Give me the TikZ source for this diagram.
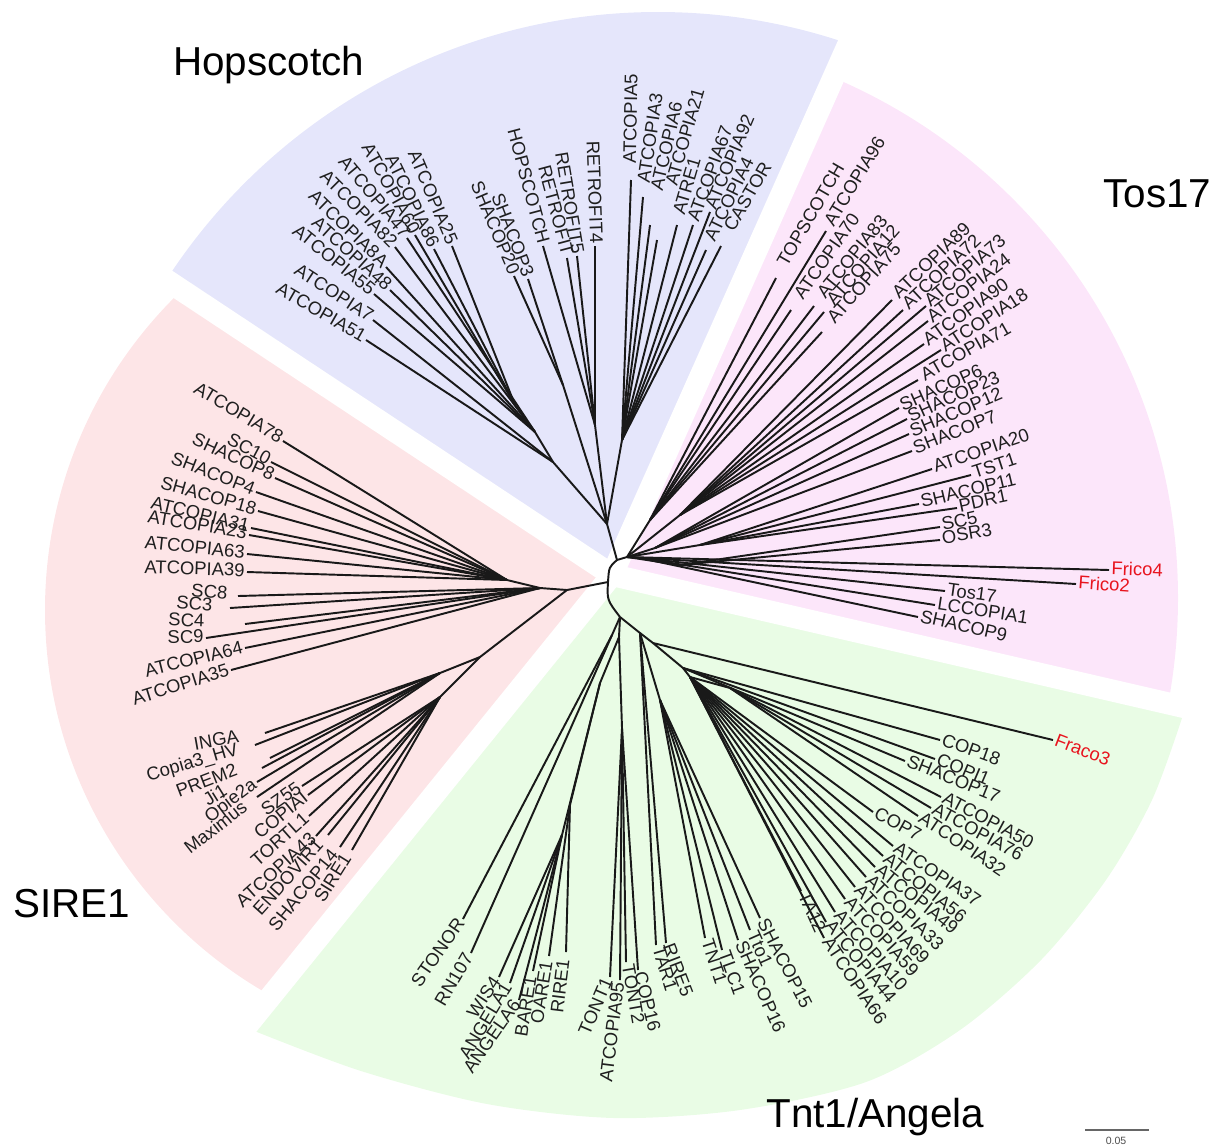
\documentclass[tikz,border=0pt]{standalone}
\usepackage{fontspec}
\setmainfont{Liberation Sans}
\definecolor{hopfill}{RGB}{229,230,251}
\definecolor{tosfill}{RGB}{252,230,250}
\definecolor{tntfill}{RGB}{233,252,229}
\definecolor{sirefill}{RGB}{253,229,231}
\definecolor{novel}{RGB}{232,20,30}
\tikzset{
  branch/.style={line width=1.1pt, black!90},
  leaf/.style={font=\fontsize{10.5}{12}\selectfont, text=black!88, inner ysep=0pt, inner xsep=1.2pt},
  lg/.style={inner xsep=#1},
  clade/.style={font=\fontsize{23}{27}\selectfont, anchor=base west, inner sep=0pt},
  gapline/.style={white, line width=0.44cm}
}
% leaf: [options]{parent}{tip}{outward angle}{label}
\newcommand\leaf[5][]{%
  \pgfmathsetmacro\lcos{cos(#4)}%
  \ifdim\lcos pt<0pt
    \node[leaf, anchor=mid east, rotate=#4-180, #1] (#5) at #3 {#5};
    \draw[branch] (#2) -- (#5.mid east);
  \else
    \node[leaf, anchor=mid west, rotate=#4, #1] (#5) at #3 {#5};
    \draw[branch] (#2) -- (#5.mid west);
  \fi}

\begin{document}
\begin{tikzpicture}[x=0.02cm,y=-0.02cm]
\useasboundingbox (0,0) rectangle (1220,1147);

% clade sectors
\coordinate (ctr) at (612,575);
\begin{scope}
  \clip (ctr) -- +(-66:1000) -- +(-106.25:1300) -- +(-146.5:1000) -- cycle;
  \fill[hopfill] (658,597) circle[radius=585];
\end{scope}
\begin{scope}
  \clip (ctr) -- +(-146.5:1000) -- +(-188.75:1300) -- +(-231:1000) -- cycle;
  \fill[sirefill] (487,610) circle[radius=442];
\end{scope}
\begin{scope}
  \clip (ctr) -- +(13:1000) -- +(-26.5:1300) -- +(-66:1000) -- cycle;
  \fill[tosfill] (613,598) circle[radius=565];
\end{scope}
\fill[tntfill] (ctr) -- (1200,711) -- plot[smooth] coordinates {(1182,718) (1152,800) (1106,880) (1041,960) (960,1030) (866,1082) (740,1110) (614,1118) (487,1104) (361,1071) (252,1030)} -- (240,1040) -- cycle;
\foreach \a in {-66,-146.5,-231,13}
  \draw[gapline] (ctr) -- +(\a:640);

% root
\coordinate (nA) at (617,560);
\coordinate (nR) at (608,582);
\coordinate (nT) at (620,617);
\draw[branch] (nA) .. controls (609,567) .. (nR) .. controls (607,600) .. (nT);

% Hopscotch
\coordinate (hop0) at (607,524);
\coordinate (hL) at (553,462);
\coordinate (hL2) at (535,432);
\coordinate (hL3) at (515,405);
\coordinate (hS) at (563,385);
\coordinate (hR) at (595,425);
\coordinate (hA5) at (622,440);
\draw[branch] (nA) -- (hop0);
\draw[branch] (hop0) -- (hL) -- (hL2) -- (hL3);
\draw[branch] (hop0) -- (hS);
\draw[branch] (hop0) -- (hR);
\draw[branch] (hop0) -- (hA5);
\leaf{hL}{(366,340)}{150}{ATCOPIA51}
\leaf{hL}{(373,320)}{147}{ATCOPIA7}
\leaf{hL2}{(374,294)}{141}{ATCOPIA55}
\leaf{hL2}{(390,290)}{138}{ATCOPIA48}
\leaf{hL2}{(386,267)}{136}{ATCOPIA8A}
\leaf{hL2}{(395,247)}{135}{ATCOPIA82}
\leaf{hL2}{(407,238)}{130}{ATCOPIA47}
\leaf{hL3}{(415,235)}{119}{ATCOPIA60}
\leaf{hL3}{(434,249)}{116}{ATCOPIA86}
\leaf{hL3}{(452,246)}{113}{ATCOPIA25}
\leaf{hS}{(514,276)}{113}{SHACOP20}
\leaf{hS}{(528,279)}{111}{SHACOP3}
\leaf{hR}{(543,246)}{105}{HOPSCOTCH}
\leaf{hR}{(567,258)}{105}{RETROFIT}
\leaf{hR}{(577,256)}{99.5}{RETROFIT5}
\leaf{hR}{(595,246)}{92}{RETROFIT4}
\leaf[lg=9pt]{hA5}{(631,180)}{89}{ATCOPIA5}
\leaf[lg=8pt]{hA5}{(643,197)}{81.5}{ATCOPIA3}
\leaf[lg=20pt]{hA5}{(650,225)}{77}{ATCOPIA6}
\leaf[lg=32pt]{hA5}{(657,240)}{74}{ATCOPIA21}
\leaf[lg=6pt]{hA5}{(677,225)}{73.6}{ATRE1}
\leaf[lg=2pt]{hA5}{(693,225)}{70}{ATCOPIA67}
\leaf[lg=2pt]{hA5}{(710,212)}{67}{ATCOPIA92}
\leaf[lg=6pt]{hA5}{(706,250)}{64}{ATCOPIA4}
\leaf[lg=10pt]{hA5}{(721,246)}{60}{CASTOR}

% Tos17
\coordinate (t0) at (627,557);
\coordinate (t1) at (650,520);
\coordinate (t2) at (680,515);
\coordinate (t3) at (655,548);
\coordinate (t7) at (700,545);
\coordinate (t8) at (680,565);
\coordinate (t9) at (640,558);
\draw[branch] (nA) -- (t0);
\foreach \n in {t1,t2,t3,t7,t8,t9}
  \draw[branch] (t0) -- (\n);
\leaf[lg=8pt]{t1}{(776,278)}{60}{TOPSCOTCH}
\leaf[lg=4pt]{t1}{(826,231)}{58.6}{ATCOPIA96}
\leaf[lg=8pt]{t1}{(791,310)}{55}{ATCOPIA70}
\leaf[lg=7pt]{t1}{(814,306)}{51}{ATCOPIA83}
\leaf[lg=6pt]{t1}{(824,312)}{48.8}{ATCOPIA12}
\leaf[lg=8pt]{t1}{(822,332)}{48}{ATCOPIA75}
\leaf[lg=3pt]{t2}{(892,300)}{43.7}{ATCOPIA89}
\leaf[lg=2pt]{t2}{(903,310)}{43}{ATCOPIA72}
\leaf{t2}{(926,306)}{40.5}{ATCOPIA73}
\leaf{t2}{(928,321)}{37.6}{ATCOPIA24}
\leaf{t2}{(924,344)}{35.8}{ATCOPIA90}
\leaf{t2}{(941,350)}{33}{ATCOPIA18}
\leaf[lg=3pt]{t2}{(918,380)}{29.5}{ATCOPIA71}
\leaf{t3}{(899,408)}{24}{SHACOP6}
\leaf{t3}{(907,419)}{24}{SHACOP23}
\leaf{t3}{(909,434)}{23}{SHACOP12}
\leaf{t3}{(912,451)}{22}{SHACOP7}
\leaf{t7}{(932,469)}{19}{ATCOPIA20}
\leaf{t7}{(971,475)}{18}{TST1}
\leaf{t7}{(919,504)}{13.5}{SHACOP11}
\leaf{t7}{(957,508)}{12}{PDR1}
\leaf{t8}{(940,527)}{13}{SC5}
\leaf{t8}{(940,540)}{9.8}{OSR3}
\leaf[text=novel]{t0}{(1109,570)}{-1.9}{Frico4}
\leaf[text=novel]{t0}{(1076,584)}{-4}{Frico2}
\leaf{t9}{(945,591)}{-8}{Tos17}
\leaf{t9}{(935,605)}{-8.6}{LCCOPIA1}
\leaf{t9}{(918,617)}{-13}{SHACOP9}

% Tnt1/Angela
\coordinate (k9) at (619,637);
\coordinate (k0) at (640,633);
\coordinate (b1) at (612,635);
\coordinate (b2) at (600,683);
\coordinate (b3) at (562,835);
\coordinate (b4) at (570,805);
\coordinate (k8) at (622,728);
\coordinate (k1) at (653,643);
\coordinate (k2) at (683,668);
\coordinate (k3) at (690,677);
\coordinate (k5) at (730,688);
\coordinate (k7) at (660,700);
\draw[branch] (nT) -- (k9) -- (b2) -- (b3);
\draw[branch] (b2) -- (b4);
\draw[branch] (k9) -- (k8);
\draw[branch] (nT) -- (b1);
\draw[branch] (nT) -- (k0) -- (k1) -- (k2) -- (k3) -- (k5);
\draw[branch] (k0) -- (k7);
\leaf[text=novel]{k1}{(1053,740)}{-21}{Fraco3}
\leaf{k2}{(940,740)}{-20}{COP18}
\leaf{k2}{(935,759)}{-23}{COPI1}
\leaf{k2}{(905,761)}{-22}{SHACOP17}
\leaf{k5}{(941,797)}{-28}{ATCOPIA50}
\leaf{k5}{(931,808)}{-28.6}{ATCOPIA76}
\leaf{k5}{(918,816)}{-34}{ATCOPIA32}
\leaf{k3}{(873,812)}{-29}{COP7}
\leaf{k3}{(893,846)}{-34}{ATCOPIA37}
\leaf{k3}{(883,856)}{-38.5}{ATCOPIA56}
\leaf{k3}{(875,867)}{-39}{ATCOPIA49}
\leaf{k3}{(866,877)}{-44}{ATCOPIA33}
\leaf{k3}{(855,887)}{-47}{ATCOPIA69}
\leaf{k3}{(845,899)}{-47.5}{ATCOPIA59}
\leaf{k3}{(835,912)}{-48.6}{ATCOPIA10}
\leaf{k3}{(826,922)}{-50.4}{ATCOPIA44}
\leaf{k3}{(824,938)}{-56}{ATCOPIA66}
\leaf{k3}{(801,891)}{-66}{TA12}
\leaf{k7}{(760,918)}{-63}{SHACOP15}
\leaf{k7}{(750,930)}{-66}{Tto1}
\leaf{k7}{(738,940)}{-66}{SHACOP16}
\leaf{k7}{(722,950)}{-70}{TLC1}
\leaf{k7}{(705,938)}{-72}{TNT1}
\leaf{k0}{(666,943)}{-69}{RIRE5}
\leaf{k0}{(656,945)}{-73}{TAR1}
\leaf{k8}{(638,970)}{-76}{COP16}
\leaf{k8}{(626,962)}{-80}{TONT2}
\leaf{k8}{(620,980)}{263}{ATCOPIA95}
\leaf{k8}{(610,977)}{246.6}{TONT1}
\leaf[lg=4pt]{b4}{(566,952)}{263}{RIRE1}
\leaf[lg=3pt]{b4}{(549,956)}{261}{OARE1}
\leaf[lg=3pt]{b3}{(533,971)}{261}{BARE1}
\leaf{b3}{(519,1000)}{235}{ANGELA6}
\leaf{b3}{(510,983)}{239}{ANGELA1}
\leaf{b3}{(499,977)}{236}{WIS4}
\leaf{b1}{(471,953)}{239.6}{RN107}
\leaf{b1}{(463,919)}{235}{STONOR}

% SIRE1
\coordinate (s0) at (567,590);
\coordinate (s1) at (540,588);
\coordinate (s3) at (507,580);
\coordinate (s2) at (480,657);
\coordinate (s5) at (440,673);
\coordinate (s6) at (440,697);
\draw[branch] (nR) -- (s0) -- (s1) -- (s3);
\draw[branch] (s0) -- (s2) -- (s5);
\draw[branch] (s2) -- (s6);
\leaf{s3}{(283,441)}{149}{ATCOPIA78}
\leaf{s3}{(271,462)}{152}{SC10}
\leaf{s3}{(275,478)}{155}{SHACOP8}
\leaf{s3}{(256,492)}{158.6}{SHACOP4}
\leaf{s3}{(258,511)}{164.3}{SHACOP18}
\leaf{s3}{(251,528)}{166.6}{ATCOPIA31}
\leaf{s3}{(249,535)}{170.5}{ATCOPIA23}
\leaf{s3}{(247,554)}{174.2}{ATCOPIA63}
\leaf{s3}{(247,572)}{178}{ATCOPIA39}
\leaf[lg=6pt]{s1}{(238,596)}{175}{SC8}
\leaf[lg=10pt]{s1}{(230,608)}{176}{SC3}
\leaf[lg=23pt]{s1}{(245,624)}{178}{SC4}
\leaf{s1}{(206,638)}{181}{SC9}
\leaf{s1}{(245,648)}{194}{ATCOPIA64}
\leaf{s1}{(231,670)}{197.6}{ATCOPIA35}
\leaf[lg=15pt]{s5}{(265,733)}{190}{INGA}
\node[leaf, anchor=mid east, rotate=16.4, lg=10pt] (Copia3HV) at (255,745) {Copia3\_HV};
\draw[branch] (s5) -- (Copia3HV.mid east);
\leaf[lg=20pt]{s5}{(270,758)}{201}{PREM2}
\leaf[lg=24pt]{s5}{(262,768)}{212}{Ji1}
\leaf{s5}{(257,782)}{217}{Opie2a}
\leaf[lg=8pt]{s5}{(257,797)}{218}{Maximus}
\leaf{s6}{(302,786)}{215}{SZ55}
\leaf{s6}{(308,795)}{219}{COPIAI}
\leaf{s6}{(309,816)}{221.5}{TORTL1}
\leaf{s6}{(316,836)}{222}{ATCOPIA43}
\leaf[lg=6pt]{s6}{(328,835)}{228}{ENDOVIR1}
\leaf[lg=4pt]{s6}{(340,847)}{231}{SHACOP14}
\leaf[lg=4pt]{s6}{(352,850)}{238}{SIRE1}

% clade names
\node[clade] (lblHop) at (173,75) {Hopscotch};
\node[clade] (lblTos) at (1103,207) {Tos17};
\node[clade] (lblSire) at (13,917) {SIRE1};
\node[clade] (lblTnt) at (766,1127) {Tnt1/Angela};

% scale bar
\coordinate (sb1) at (1085,1130);
\coordinate (sb2) at (1149,1130);
\draw[black!60, line width=0.6pt] (sb1) -- (sb2);
\node[font=\fontsize{6}{7}\selectfont, text=black!70, inner sep=0pt] (sbl) at (1116,1141) {0.05};
\end{tikzpicture}
\end{document}
